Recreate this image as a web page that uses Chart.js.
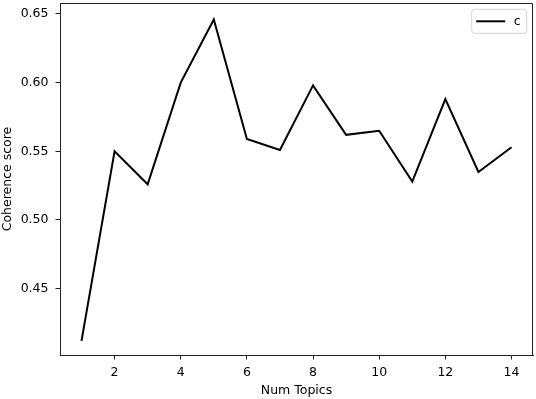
<!DOCTYPE html>
<html><head><meta charset="utf-8">
<script src="https://cdn.jsdelivr.net/npm/chart.js@4"></script>
<style>html,body{margin:0;padding:0;background:#fff}#wrap{width:536px;height:399px;position:relative}</style>
</head><body><div id="wrap"><canvas id="c"></canvas></div>
<script>
const numTopics = [1, 2, 3, 4, 5, 6, 7, 8, 9, 10, 11, 12, 13, 14];
const coherence = [0.412, 0.550, 0.526, 0.600, 0.646, 0.559, 0.551, 0.598, 0.562, 0.565, 0.528, 0.588, 0.535, 0.553];
const xTicks = [2, 4, 6, 8, 10, 12, 14];
const yTicks = [0.45, 0.50, 0.55, 0.60, 0.65];
const seriesLabel = 'c';
const xTitle = 'Num Topics';
const yTitle = 'Coherence score';

const FONT = 'DejaVu Sans';
const fontSpec = {family: FONT, size: 12.5};

const framePlugin = {
  id: 'frame',
  beforeDraw(chart) {
    const ctx = chart.ctx;
    ctx.save();
    ctx.fillStyle = '#fff';
    ctx.fillRect(0, 0, chart.width, chart.height);
    ctx.restore();
  },
  afterDatasetsDraw(chart) {
    const {ctx, chartArea: a} = chart;
    ctx.save();
    ctx.strokeStyle = '#222';
    ctx.lineWidth = 1;
    ctx.beginPath();
    ctx.moveTo(Math.round(a.left) + 0.5, Math.round(a.top) + 0.5);
    ctx.lineTo(Math.round(a.right) - 0.5, Math.round(a.top) + 0.5);
    ctx.lineTo(Math.round(a.right) - 0.5, Math.round(a.bottom) + 0.5);
    ctx.stroke();

    // legend (matplotlib style, upper right)
    const ds = chart.data.datasets[0];
    const x1 = a.right - 6.3, x0 = x1 - 55;
    const y0 = a.top + 6.3, y1 = y0 + 24;
    const r = 3;
    ctx.beginPath();
    ctx.moveTo(x0 + r, y0);
    ctx.arcTo(x1, y0, x1, y1, r);
    ctx.arcTo(x1, y1, x0, y1, r);
    ctx.arcTo(x0, y1, x0, y0, r);
    ctx.arcTo(x0, y0, x1, y0, r);
    ctx.closePath();
    ctx.fillStyle = 'rgba(255,255,255,0.8)';
    ctx.fill();
    ctx.strokeStyle = '#d4d4d4';
    ctx.lineWidth = 1;
    ctx.stroke();
    const cy = (y0 + y1) / 2;
    ctx.beginPath();
    ctx.moveTo(x0 + 4.5, cy);
    ctx.lineTo(x0 + 33.5, cy);
    ctx.strokeStyle = ds.borderColor;
    ctx.lineWidth = ds.borderWidth;
    ctx.stroke();
    ctx.fillStyle = '#000';
    ctx.font = '12.5px "' + FONT + '"';
    ctx.textAlign = 'left';
    ctx.textBaseline = 'middle';
    ctx.fillText(ds.label, x0 + 42, cy);
    ctx.restore();
  }
};

new Chart(document.getElementById('c'), {
  type: 'line',
  data: {
    datasets: [{
      label: seriesLabel,
      data: numTopics.map((x, i) => ({x: x, y: coherence[i]})),
      borderColor: '#000',
      backgroundColor: '#000',
      borderWidth: 2,
      pointRadius: 0,
      tension: 0,
      fill: false
    }]
  },
  options: {
    responsive: true,
    maintainAspectRatio: false,
    animation: false,
    devicePixelRatio: 1,
    layout: {padding: {top: 3, right: 3, left: 0, bottom: 0}},
    plugins: {
      tooltip: {enabled: false},
      legend: {display: false}
    },
    scales: {
      x: {
        type: 'linear',
        min: 0.35,
        max: 14.65,
        afterBuildTicks: s => { s.ticks = xTicks.map(v => ({value: v})); },
        afterFit: s => { s.height = 44; s.paddingLeft = 0; s.paddingRight = 0; },
        grid: {display: true, drawOnChartArea: false, drawTicks: true, tickLength: 4.5, tickWidth: 1, tickColor: '#222'},
        border: {display: true, color: '#222', width: 1},
        ticks: {color: '#000', font: fontSpec, padding: 6, maxRotation: 0, autoSkip: false, callback: v => String(v)},
        title: {display: true, text: xTitle, color: '#000', font: fontSpec, padding: {top: 0, bottom: 0.5}}
      },
      y: {
        type: 'linear',
        min: 0.4017,
        max: 0.658,
        afterBuildTicks: s => { s.ticks = yTicks.map(v => ({value: v})); },
        afterFit: s => { s.width = 60; s.paddingTop = 0; s.paddingBottom = 0; },
        grid: {display: true, drawOnChartArea: false, drawTicks: true, tickLength: 4.5, tickWidth: 1, tickColor: '#222'},
        border: {display: true, color: '#222', width: 1},
        ticks: {color: '#000', font: fontSpec, padding: 7, autoSkip: false, callback: v => v.toFixed(2)},
        title: {display: true, text: yTitle, color: '#000', font: fontSpec, padding: {top: 0.5, bottom: 0}}
      }
    }
  },
  plugins: [framePlugin]
});
</script>
</body></html>
